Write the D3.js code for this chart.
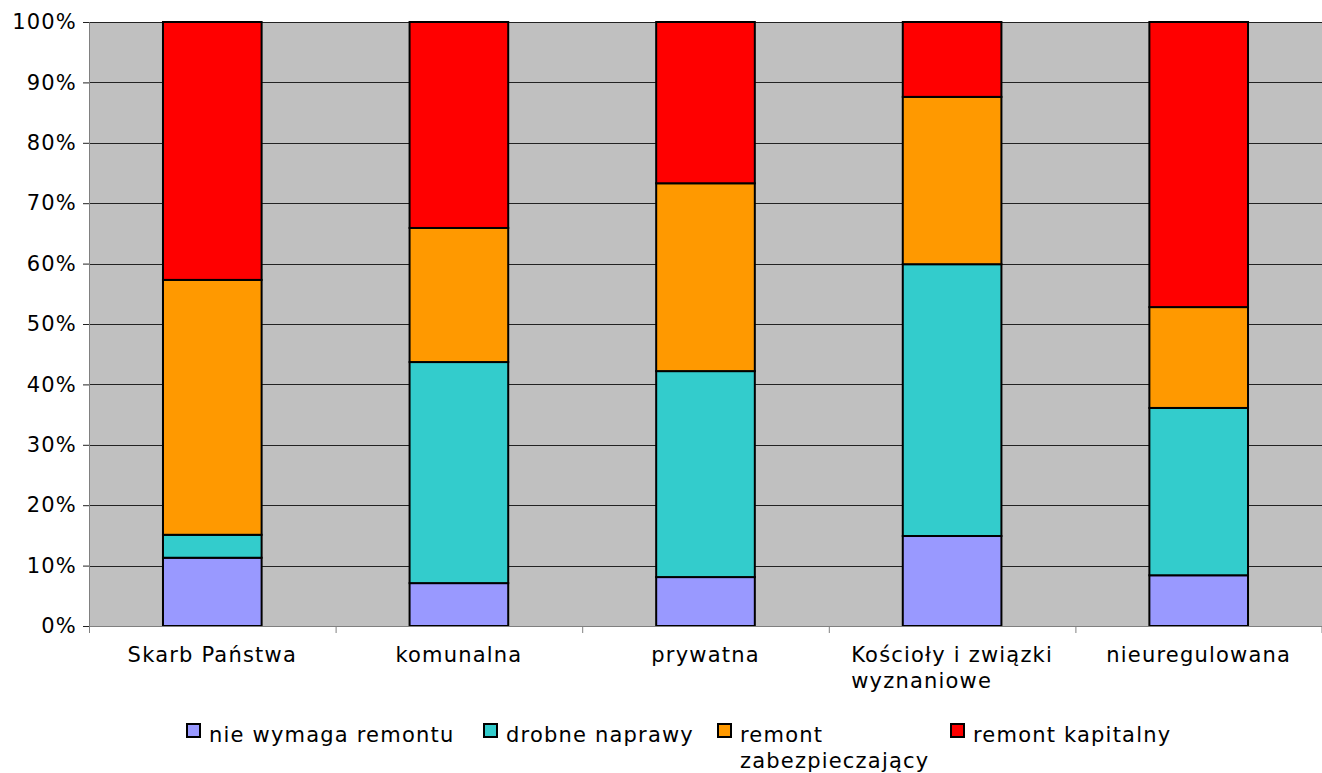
<!DOCTYPE html>
<html>
<head>
    <meta charset="utf-8">
    <script src="https://d3js.org/d3.v7.min.js"></script>
    <style>
        body { margin: 0; background: white; }
        text { font-family: "DejaVu Sans", Verdana, sans-serif; fill: #000; letter-spacing: 1.2px; }
    </style>
</head>
<body>
<svg width="1322" height="773"></svg>
<script>
    // categories and series (percent shares)
    const categories = ["Skarb Państwa", "komunalna", "prywatna", "Kościoły i związki|wyznaniowe", "nieuregulowana"];
    const seriesNames = ["nie wymaga remontu", "drobne naprawy", "remont|zabezpieczający", "remont kapitalny"];
    const colors = ["#9999FF", "#33CCCC", "#FF9900", "#FF0000"];

    const nieWymaga = [11.3, 7.1, 8.1, 14.9, 8.4];
    const drobne = [3.8, 36.6, 34.1, 45.0, 27.7];
    const zabezp = [42.2, 22.2, 31.1, 27.7, 16.7];
    const kapitalny = [42.7, 34.1, 26.7, 12.4, 47.2];

    const yTicks = [0, 10, 20, 30, 40, 50, 60, 70, 80, 90, 100];

    const marginLeft = 89, marginTop = 22, plotRight = 1322, plotBottom = 626;
    const fontSize = 21;

    const svg = d3.select("svg");

    const x = d3.scaleBand()
        .domain(categories)
        .range([marginLeft, plotRight])
        .paddingInner(0)
        .paddingOuter(0);

    const y = d3.scaleLinear()
        .domain([0, 100])
        .range([plotBottom, marginTop]);

    // plot background
    svg.append("rect")
        .attr("x", marginLeft)
        .attr("y", marginTop)
        .attr("width", plotRight - marginLeft)
        .attr("height", plotBottom - marginTop)
        .attr("fill", "#C0C0C0");

    // gridlines
    svg.append("g")
        .selectAll("line")
        .data(yTicks)
        .join("line")
        .attr("x1", marginLeft)
        .attr("x2", plotRight)
        .attr("y1", d => Math.round(y(d)) + 0.5)
        .attr("y2", d => Math.round(y(d)) + 0.5)
        .attr("stroke", "#222")
        .attr("stroke-width", 1);

    // stacked data
    const rows = categories.map((c, i) => ({
        cat: c,
        s0: nieWymaga[i], s1: drobne[i], s2: zabezp[i], s3: kapitalny[i]
    }));
    const stack = d3.stack().keys(["s0", "s1", "s2", "s3"]);
    const stacked = stack(rows);

    const barWidth = x.bandwidth() * 0.4;

    svg.append("g")
        .selectAll("g")
        .data(stacked)
        .join("g")
        .attr("fill", (d, i) => colors[i])
        .selectAll("rect")
        .data(d => d)
        .join("rect")
        .attr("x", d => x(d.data.cat) + (x.bandwidth() - barWidth) / 2)
        .attr("y", d => y(d[1]))
        .attr("width", barWidth)
        .attr("height", d => y(d[0]) - y(d[1]))
        .attr("stroke", "#000")
        .attr("stroke-width", 2);

    // y axis
    const yAxis = svg.append("g")
        .attr("transform", "translate(" + marginLeft + ",0)")
        .call(d3.axisLeft(y).tickValues(yTicks).tickFormat(d => d + "%").tickSize(6).tickPadding(6));
    yAxis.select(".domain").attr("stroke", "#808080");
    yAxis.selectAll(".tick line").attr("stroke", "#222");
    yAxis.selectAll("text").attr("font-size", fontSize).attr("fill", "#000");

    // x axis line and ticks at category boundaries
    const bounds = categories.map(c => x(c)).concat([plotRight - 0.5]);
    svg.append("line")
        .attr("x1", marginLeft).attr("x2", plotRight)
        .attr("y1", plotBottom + 0.5).attr("y2", plotBottom + 0.5)
        .attr("stroke", "#808080");
    svg.append("g")
        .selectAll("line")
        .data(bounds)
        .join("line")
        .attr("x1", d => d + 0.5).attr("x2", d => d + 0.5)
        .attr("y1", plotBottom).attr("y2", plotBottom + 7)
        .attr("stroke", "#808080");

    // category labels
    const labels = svg.append("g")
        .selectAll("text")
        .data(categories)
        .join("text")
        .attr("font-size", fontSize)
        .attr("y", 662);
    labels.each(function(d) {
        const parts = d.split("|");
        const t = d3.select(this);
        const cx = x(d) + x.bandwidth() / 2;
        if (parts.length === 1) {
            t.attr("x", cx).attr("text-anchor", "middle").text(d);
        } else {
            t.append("tspan").attr("x", cx).attr("text-anchor", "middle").text(parts[0]);
            const w = this.getComputedTextLength();
            t.append("tspan").attr("x", cx - w / 2).attr("dy", 26).text(parts[1]);
        }
    });

    // legend
    const legendX = [186, 483, 717, 950];
    const legend = svg.append("g")
        .selectAll("g")
        .data(seriesNames)
        .join("g")
        .attr("transform", (d, i) => "translate(" + legendX[i] + ",723)");
    legend.append("rect")
        .attr("x", 1).attr("y", 1)
        .attr("width", 13).attr("height", 13)
        .attr("fill", (d, i) => colors[i])
        .attr("stroke", "#000")
        .attr("stroke-width", 2);
    legend.append("text")
        .attr("x", 23)
        .attr("y", 19)
        .attr("font-size", fontSize)
        .each(function(d) {
            const parts = d.split("|");
            const t = d3.select(this);
            parts.forEach((p, j) => {
                t.append("tspan").attr("x", 23).attr("dy", j === 0 ? 0 : 26).text(p);
            });
        });
</script>
</body>
</html>
